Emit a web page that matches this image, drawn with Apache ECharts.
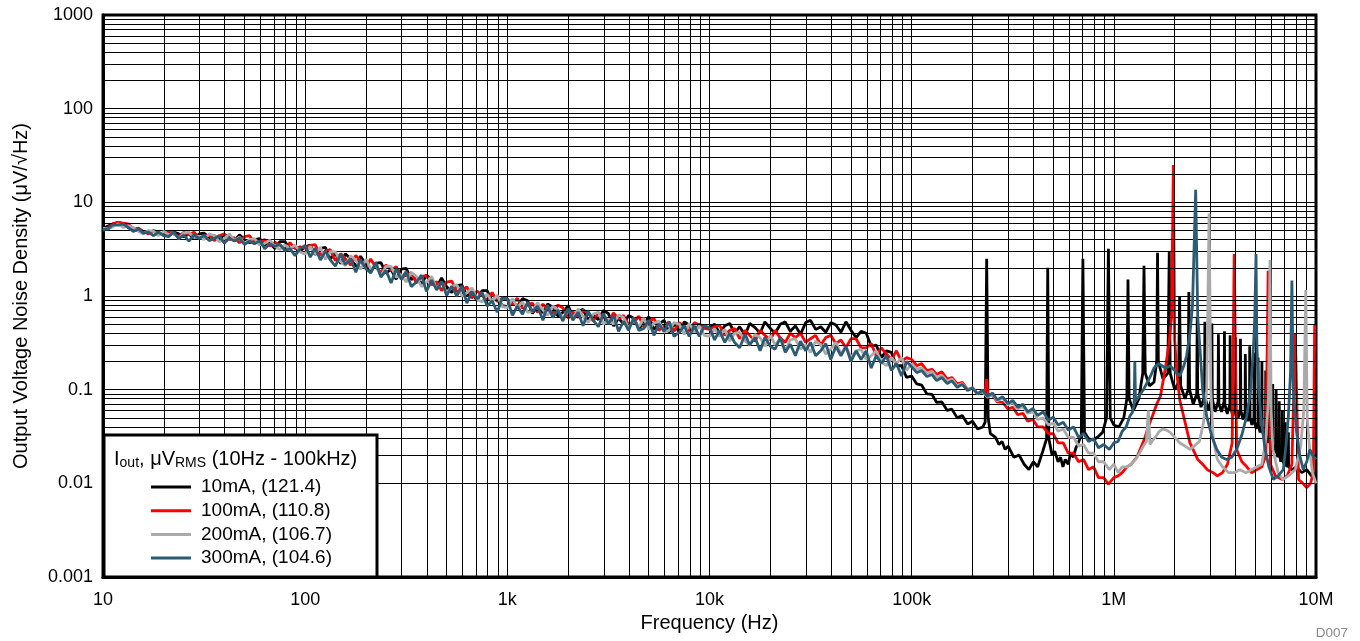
<!DOCTYPE html>
<html><head><meta charset="utf-8">
<script src="https://cdn.jsdelivr.net/npm/echarts@6.0.0/dist/echarts.min.js"></script>
<style>html,body{margin:0;padding:0;background:#fff}#c{width:1360px;height:641px}</style>
</head><body><div id="c"></div>
<script>
const xTickLabels = ['10','100','1k','10k','100k','1M','10M'];
const yTickLabels = ['0.001','0.01','0.1','1','10','100','1000'];
const seriesNames = ['10mA, (121.4)','100mA, (110.8)','200mA, (106.7)','300mA, (104.6)'];

// Low-frequency sample frequencies (Hz), 10 Hz .. 94.4 kHz
const lfFreq = [10,10.6,11.2,11.9,12.6,13.3,14.1,15,15.8,16.8,17.8,18.8,20,21.1,22.4,23.7,25.1,26.6,28.2,29.9,31.6,33.5,35.5,37.6,39.8,42.2,44.7,47.3,50.1,53.1,56.2,59.6,63.1,66.8,70.8,75,79.4,84.1,89.1,94.4,
  100,106,112,119,126,133,141,150,158,168,178,188,200,211,224,237,251,266,282,299,316,335,355,376,398,422,447,473,501,531,562,596,631,668,708,750,794,841,891,944,
  1000,1060,1120,1190,1260,1330,1410,1500,1580,1680,1780,1880,2000,2110,2240,2370,2510,2660,2820,2990,3160,3350,3550,3760,3980,4220,4470,4730,5010,5310,5620,5960,6310,6680,7080,7500,7940,8410,8910,9440,
  10000,10600,11200,11900,12600,13300,14100,15000,15800,16800,17800,18800,20000,21100,22400,23700,25100,26600,28200,29900,31600,33500,35500,37600,39800,42200,44700,47300,50100,53100,56200,59600,63100,66800,70800,75000,79400,84100,89100,94400];

const lf10mA = [5.3,5.6,5.9,6.1,5.9,5.4,5.1,5.0,4.7,4.9,4.9,4.6,4.7,4.4,4.8,4.6,4.3,4.6,4.1,4.6,4.7,4.2,4.4,4.0,4.5,4.3,3.9,4.5,4.0,3.7,4.0,4.1,3.5,3.7,3.2,3.8,3.8,3.2,3.4,3.0,
  3.35,3.5,2.77,3.23,3.3,2.48,2.86,2.22,2.82,2.5,2.07,2.66,2.15,1.82,2.24,2.27,1.75,1.93,1.51,1.94,1.97,1.5,1.58,1.33,1.67,1.51,1.24,1.56,1.26,1.09,1.3,1.31,1.01,1.11,0.89,1.14,1.14,0.88,0.96,0.79,
  0.77,0.89,0.77,0.94,0.89,0.65,0.78,0.66,0.82,0.76,0.61,0.67,0.79,0.59,0.68,0.72,0.55,0.62,0.56,0.7,0.65,0.48,0.58,0.5,0.62,0.58,0.45,0.51,0.6,0.44,0.5,0.55,0.41,0.51,0.41,0.53,0.49,0.41,0.5,0.46,
  0.46,0.5,0.4,0.48,0.51,0.4,0.47,0.38,0.51,0.46,0.4,0.53,0.45,0.4,0.5,0.53,0.42,0.48,0.39,0.52,0.55,0.44,0.47,0.41,0.52,0.49,0.41,0.53,0.43,0.36,0.42,0.4,0.29,0.3,0.22,0.26,0.25,0.18,0.18,0.135];
const lf100mA = [5.0,5.3,5.9,6.1,6.0,5.9,5.2,5.3,4.9,4.6,5.0,4.8,4.5,4.9,4.6,4.3,4.8,4.5,4.8,4.1,4.3,4.5,3.9,4.4,4.6,4.0,4.2,3.7,4.3,4.4,3.7,3.8,4.0,3.4,3.75,3.5,3.2,3.7,3.2,3.35,
  3.26,3.47,3.54,2.74,3.02,3.13,2.39,2.82,2.5,2.14,2.71,2.35,2.02,2.48,2.0,1.78,2.14,1.89,2.06,1.58,1.67,1.77,1.38,1.6,1.66,1.32,1.42,1.14,1.41,1.44,1.12,1.14,1.25,0.95,1.13,1.02,0.89,1.09,0.87,0.95,
  0.93,0.81,0.95,0.74,0.8,0.84,0.67,0.82,0.71,0.66,0.8,0.75,0.58,0.68,0.59,0.71,0.66,0.54,0.66,0.59,0.53,0.66,0.57,0.62,0.49,0.52,0.61,0.47,0.53,0.58,0.43,0.48,0.53,0.42,0.52,0.48,0.42,0.52,0.49,0.45,
  0.44,0.47,0.49,0.38,0.43,0.45,0.35,0.43,0.38,0.33,0.43,0.38,0.34,0.43,0.355,0.32,0.4,0.36,0.4,0.32,0.35,0.38,0.3,0.36,0.38,0.31,0.34,0.28,0.35,0.35,0.28,0.28,0.31,0.23,0.28,0.24,0.21,0.26,0.2,0.22];
const lf200mA = [5.3,5.2,5.5,5.9,5.4,5.6,5.4,4.9,4.6,5.0,4.9,4.4,4.9,4.5,4.7,4.1,4.7,4.8,4.2,4.35,4.0,4.6,4.4,3.8,4.1,4.6,3.9,4.25,3.65,4.0,4.1,3.5,3.65,3.95,3.4,3.15,3.5,3.2,3.5,2.95,
  2.79,3.38,2.8,3.31,2.46,2.97,2.96,2.32,2.11,2.69,2.42,1.93,2.47,1.93,2.16,1.63,2.07,2.07,1.58,1.7,1.41,1.79,1.62,1.26,1.4,1.62,1.19,1.42,1.07,1.27,1.32,1.0,1.08,1.22,0.93,0.86,1.05,0.87,1.02,0.77,
  0.75,0.94,0.76,0.86,0.67,0.68,0.85,0.71,0.62,0.78,0.71,0.57,0.72,0.57,0.73,0.6,0.52,0.64,0.67,0.5,0.57,0.5,0.63,0.59,0.45,0.56,0.47,0.58,0.44,0.51,0.54,0.41,0.43,0.52,0.5,0.39,0.51,0.41,0.48,0.38,
  0.37,0.45,0.37,0.44,0.33,0.4,0.41,0.33,0.3,0.39,0.36,0.29,0.38,0.3,0.35,0.26,0.34,0.35,0.27,0.3,0.25,0.33,0.3,0.24,0.27,0.32,0.24,0.29,0.22,0.26,0.27,0.21,0.23,0.26,0.2,0.18,0.22,0.19,0.22,0.16];
const lf300mA = [5.1,5.2,5.8,5.7,5.9,5.4,4.9,5.2,4.7,4.8,4.4,4.8,4.4,4.3,4.8,4.1,4.45,3.85,4.5,4.1,4.45,3.9,4.1,4.4,3.65,4.15,3.85,4.15,3.55,3.85,3.6,3.9,3.2,3.6,3.4,3.55,3.05,3.2,2.7,3.2,
  3.47,2.6,3.25,2.42,3.02,2.43,2.08,2.82,2.16,2.5,1.79,2.44,1.94,1.76,2.28,1.59,1.88,1.38,1.94,1.5,1.84,1.26,1.41,1.67,1.12,1.48,1.16,1.43,1.01,1.27,1.0,1.28,0.84,1.11,0.93,1.1,0.78,0.89,0.67,0.95,
  0.93,0.62,0.78,0.64,0.86,0.68,0.78,0.55,0.8,0.59,0.71,0.54,0.73,0.55,0.67,0.48,0.69,0.55,0.47,0.65,0.5,0.62,0.42,0.54,0.43,0.59,0.43,0.45,0.55,0.38,0.5,0.42,0.53,0.37,0.41,0.48,0.37,0.48,0.37,0.48,
  0.46,0.34,0.43,0.32,0.4,0.32,0.28,0.39,0.3,0.36,0.26,0.36,0.29,0.27,0.36,0.25,0.305,0.23,0.33,0.26,0.32,0.23,0.26,0.31,0.21,0.29,0.23,0.29,0.2,0.26,0.21,0.26,0.17,0.23,0.19,0.23,0.16,0.19,0.14,0.2];

// High-frequency part: [frequency Hz, density uV/rtHz]
const hf10mA = [[100e3,0.14],[106e3,0.115],[112e3,0.112],[119e3,0.09],[126e3,0.089],[133e3,0.073],[141e3,0.074],[150e3,0.06],[158e3,0.062],[168e3,0.05],[178e3,0.053],[189e3,0.043],[200e3,0.046],[212e3,0.038],[225e3,0.04],[231e3,0.045],[235e3,2.5],[239e3,0.05],[245e3,0.034],[260e3,0.031],[270e3,0.026],[280e3,0.028],[290e3,0.023],[300e3,0.025],[320e3,0.019],[340e3,0.02],[360e3,0.016],[380e3,0.014],[400e3,0.017],[420e3,0.015],[445e3,0.022],[465e3,0.03],[471e3,2.0],[477e3,0.03],[495e3,0.02],[510e3,0.022],[530e3,0.017],[545e3,0.019],[560e3,0.015],[575e3,0.018],[595e3,0.016],[610e3,0.021],[630e3,0.019],[650e3,0.024],[690e3,0.032],[703e3,2.5],[716e3,0.035],[750e3,0.03],[790e3,0.029],[830e3,0.031],[880e3,0.035],[920e3,0.05],[940e3,3.2],[960e3,0.05],[1.0e6,0.042],[1.06e6,0.04],[1.12e6,0.05],[1.16e6,0.08],[1.175e6,1.5],[1.19e6,0.08],[1.25e6,0.06],[1.33e6,0.08],[1.39e6,0.15],[1.41e6,2.1],[1.43e6,0.15],[1.5e6,0.11],[1.58e6,0.12],[1.63e6,0.2],[1.645e6,2.9],[1.66e6,0.2],[1.75e6,0.13],[1.85e6,0.15],[1.88e6,3.0],[1.9e6,0.15],[2.0e6,0.1],[2.09e6,0.12],[2.115e6,0.98],[2.14e6,0.11],[2.25e6,0.08],[2.33e6,0.1],[2.35e6,1.1],[2.37e6,0.1],[2.47e6,0.07],[2.57e6,0.09],[2.585e6,0.6],[2.6e6,0.09],[2.7e6,0.065],[2.81e6,0.085],[2.82e6,0.53],[2.84e6,0.08],[2.94e6,0.06],[3.04e6,0.08],[3.055e6,0.51],[3.07e6,0.08],[3.17e6,0.058],[3.28e6,0.075],[3.29e6,0.39],[3.31e6,0.07],[3.41e6,0.058],[3.51e6,0.075],[3.525e6,0.42],[3.54e6,0.07],[3.64e6,0.055],[3.75e6,0.07],[3.76e6,0.38],[3.78e6,0.065],[3.88e6,0.052],[3.985e6,0.065],[4.0e6,0.36],[4.015e6,0.062],[4.12e6,0.05],[4.22e6,0.062],[4.23e6,0.35],[4.25e6,0.06],[4.35e6,0.048],[4.46e6,0.058],[4.47e6,0.24],[4.49e6,0.055],[4.59e6,0.046],[4.69e6,0.056],[4.7e6,0.29],[4.72e6,0.05],[4.82e6,0.042],[4.93e6,0.05],[4.94e6,0.25],[4.96e6,0.046],[5.06e6,0.038],[5.16e6,0.045],[5.17e6,0.22],[5.19e6,0.042],[5.29e6,0.035],[5.39e6,0.04],[5.4e6,0.2],[5.42e6,0.038],[5.52e6,0.031],[5.63e6,0.036],[5.64e6,0.16],[5.66e6,0.033],[5.76e6,0.027],[5.87e6,0.032],[5.88e6,0.14],[5.9e6,0.03],[6.0e6,0.024],[6.1e6,0.028],[6.11e6,0.115],[6.13e6,0.026],[6.23e6,0.021],[6.34e6,0.025],[6.35e6,0.1],[6.37e6,0.023],[6.47e6,0.019],[6.57e6,0.022],[6.58e6,0.075],[6.6e6,0.02],[6.7e6,0.017],[6.81e6,0.019],[6.82e6,0.06],[6.84e6,0.018],[6.95e6,0.016],[7.04e6,0.017],[7.05e6,0.045],[7.07e6,0.016],[7.2e6,0.015],[7.3e6,0.035],[7.32e6,0.015],[7.6e6,0.014],[8.0e6,0.015],[8.5e6,0.013],[9.0e6,0.014],[9.5e6,0.012],[1.0e7,0.013]];

const hf100mA = [[100e3,0.21],[106e3,0.18],[112e3,0.19],[119e3,0.16],[126e3,0.165],[133e3,0.145],[141e3,0.155],[150e3,0.13],[158e3,0.135],[168e3,0.115],[178e3,0.12],[189e3,0.1],[200e3,0.105],[212e3,0.09],[225e3,0.094],[232e3,0.1],[235e3,0.13],[238e3,0.088],[250e3,0.088],[265e3,0.074],[282e3,0.073],[300e3,0.062],[316e3,0.065],[335e3,0.054],[355e3,0.056],[375e3,0.046],[398e3,0.048],[420e3,0.04],[447e3,0.04],[475e3,0.034],[501e3,0.034],[530e3,0.027],[562e3,0.027],[595e3,0.021],[631e3,0.021],[670e3,0.017],[708e3,0.018],[750e3,0.014],[794e3,0.015],[840e3,0.0115],[891e3,0.0115],[940e3,0.0098],[1.0e6,0.0115],[1.05e6,0.012],[1.1e6,0.013],[1.16e6,0.015],[1.22e6,0.016],[1.3e6,0.019],[1.36e6,0.024],[1.42e6,0.03],[1.48e6,0.04],[1.55e6,0.052],[1.63e6,0.07],[1.7e6,0.085],[1.76e6,0.13],[1.82e6,0.2],[1.88e6,0.33],[1.93e6,0.6],[1.97e6,25],[2.0e6,0.34],[2.05e6,0.15],[2.12e6,0.077],[2.25e6,0.045],[2.38e6,0.027],[2.6e6,0.018],[2.75e6,0.016],[2.9e6,0.014],[3.1e6,0.013],[3.25e6,0.012],[3.45e6,0.013],[3.65e6,0.016],[3.85e6,0.027],[3.94e6,2.8],[4.05e6,0.023],[4.3e6,0.017],[4.55e6,0.015],[4.8e6,0.013],[5.1e6,0.014],[5.4e6,0.015],[5.65e6,0.02],[5.8e6,1.86],[5.95e6,0.016],[6.3e6,0.012],[6.8e6,0.011],[7.2e6,0.012],[7.6e6,0.016],[7.9e6,0.4],[8.2e6,0.011],[8.6e6,0.01],[9.0e6,0.009],[9.4e6,0.01],[9.7e6,0.013],[9.85e6,0.5]];

const hf200mA = [[100e3,0.19],[106e3,0.165],[112e3,0.172],[119e3,0.15],[126e3,0.157],[133e3,0.135],[141e3,0.142],[150e3,0.123],[158e3,0.13],[168e3,0.11],[178e3,0.116],[189e3,0.099],[200e3,0.105],[212e3,0.09],[224e3,0.096],[237e3,0.083],[251e3,0.089],[265e3,0.076],[282e3,0.081],[300e3,0.069],[316e3,0.073],[335e3,0.062],[355e3,0.066],[375e3,0.056],[398e3,0.058],[420e3,0.048],[447e3,0.05],[475e3,0.042],[501e3,0.044],[530e3,0.036],[562e3,0.038],[595e3,0.031],[631e3,0.031],[670e3,0.025],[708e3,0.026],[750e3,0.021],[794e3,0.021],[840e3,0.017],[891e3,0.017],[950e3,0.014],[1.0e6,0.016],[1.05e6,0.013],[1.1e6,0.015],[1.16e6,0.015],[1.22e6,0.016],[1.28e6,0.018],[1.34e6,0.021],[1.4e6,0.025],[1.45e6,0.028],[1.48e6,0.06],[1.51e6,0.026],[1.56e6,0.029],[1.62e6,0.032],[1.68e6,0.036],[1.75e6,0.038],[1.82e6,0.037],[1.9e6,0.035],[2.0e6,0.031],[2.12e6,0.027],[2.25e6,0.025],[2.38e6,0.023],[2.5e6,0.025],[2.65e6,0.028],[2.78e6,0.045],[2.88e6,0.1],[2.96e6,7.6],[3.02e6,0.1],[3.1e6,0.03],[3.25e6,0.018],[3.45e6,0.015],[3.7e6,0.013],[3.95e6,0.013],[4.2e6,0.014],[4.5e6,0.013],[4.8e6,0.014],[5.1e6,0.015],[5.4e6,0.016],[5.65e6,0.03],[5.82e6,0.08],[5.92e6,2.42],[6.0e6,0.06],[6.12e6,0.023],[6.5e6,0.013],[6.85e6,0.011],[7.3e6,0.012],[7.9e6,0.014],[8.4e6,0.025],[8.7e6,0.06],[8.9e6,1.16],[9.05e6,0.05],[9.3e6,0.023],[9.6e6,0.013],[1.0e7,0.01]];

const hf300mA = [[100e3,0.175],[106e3,0.152],[112e3,0.16],[119e3,0.138],[126e3,0.145],[133e3,0.125],[141e3,0.135],[150e3,0.116],[158e3,0.124],[168e3,0.106],[178e3,0.114],[189e3,0.098],[200e3,0.104],[212e3,0.09],[224e3,0.099],[237e3,0.085],[251e3,0.092],[265e3,0.078],[282e3,0.084],[300e3,0.071],[316e3,0.077],[335e3,0.065],[355e3,0.07],[375e3,0.058],[398e3,0.063],[420e3,0.053],[447e3,0.058],[475e3,0.047],[501e3,0.051],[530e3,0.042],[562e3,0.045],[595e3,0.037],[631e3,0.04],[670e3,0.031],[708e3,0.034],[750e3,0.028],[794e3,0.03],[840e3,0.024],[891e3,0.026],[950e3,0.023],[1.0e6,0.027],[1.05e6,0.028],[1.1e6,0.036],[1.15e6,0.04],[1.2e6,0.052],[1.24e6,0.058],[1.26e6,0.07],[1.27e6,0.2],[1.28e6,0.075],[1.33e6,0.085],[1.4e6,0.1],[1.45e6,0.115],[1.52e6,0.14],[1.58e6,0.17],[1.66e6,0.19],[1.73e6,0.18],[1.8e6,0.17],[1.9e6,0.18],[2.0e6,0.16],[2.12e6,0.14],[2.22e6,0.18],[2.29e6,0.23],[2.38e6,0.4],[2.45e6,0.8],[2.54e6,13.6],[2.6e6,0.6],[2.67e6,0.27],[2.75e6,0.1],[2.88e6,0.052],[3.05e6,0.032],[3.23e6,0.023],[3.42e6,0.019],[3.61e6,0.018],[3.83e6,0.019],[4.05e6,0.023],[4.3e6,0.033],[4.54e6,0.052],[4.75e6,0.1],[4.9e6,0.27],[4.98e6,0.6],[5.05e6,2.8],[5.1e6,0.3],[5.18e6,0.115],[5.35e6,0.05],[5.6e6,0.023],[5.85e6,0.015],[6.15e6,0.011],[6.5e6,0.012],[6.89e6,0.014],[7.1e6,0.025],[7.3e6,0.052],[7.48e6,0.15],[7.6e6,1.46],[7.72e6,0.1],[8.02e6,0.035],[8.3e6,0.02],[8.65e6,0.014],[9.0e6,0.017],[9.33e6,0.023],[9.6e6,0.02],[1.0e7,0.018]];

const seriesColors = ['#000000','#ff0000','#aaaaaa','#2c5b74'];

function joinData(lf, hf) { return lfFreq.map((f, i) => [f, lf[i]]).concat(hf); }
const allData = [joinData(lf10mA, hf10mA), joinData(lf100mA, hf100mA), joinData(lf200mA, hf200mA), joinData(lf300mA, hf300mA)];

// minor grid positions (2..9 per decade)
const minorX = [], minorY = [];
for (let e = 1; e < 7; e++) for (let m = 2; m <= 9; m++) minorX.push({ xAxis: m * Math.pow(10, e) });
for (let e = -3; e < 3; e++) for (let m = 2; m <= 9; m++) minorY.push({ yAxis: +(m * Math.pow(10, e)).toPrecision(3) });

const FONT = 'Liberation Sans, Arial, sans-serif';
const chart = echarts.init(document.getElementById('c'), null, { renderer: 'canvas' });
const series = [{
  type: 'line', data: [], silent: true, z: 1, animation: false,
  markLine: { silent: true, symbol: 'none', animation: false, label: { show: false },
    lineStyle: { color: '#000', width: 1, type: 'solid' }, emphasis: { disabled: true },
    data: minorX.concat(minorY) }
}];
seriesNames.forEach((n, i) => series.push({
  name: n, type: 'line', data: allData[i], showSymbol: false, symbol: 'none', z: 3 + i,
  lineStyle: { color: seriesColors[i], width: 2.8 }, itemStyle: { color: seriesColors[i] },
  animation: false, sampling: null, emphasis: { disabled: true }
}));

chart.setOption({
  animation: false,
  backgroundColor: '#fff',
  grid: { left: 103, right: 44, top: 15, bottom: 64, show: true, borderColor: '#000', borderWidth: 3, backgroundColor: 'transparent' },
  xAxis: {
    type: 'log', logBase: 10, min: 10, max: 1e7, splitNumber: 6,
    name: 'Frequency (Hz)', nameLocation: 'middle', nameGap: 34,
    nameTextStyle: { fontFamily: FONT, fontSize: 20, color: '#000' },
    axisLine: { show: true, lineStyle: { color: '#000', width: 3 } },
    axisTick: { show: false },
    axisLabel: { fontFamily: FONT, fontSize: 18, color: '#000', margin: 14,
      formatter: v => xTickLabels[Math.round(Math.log10(v)) - 1] },
    splitLine: { show: true, lineStyle: { color: '#000', width: 1 } }
  },
  yAxis: {
    type: 'log', logBase: 10, min: 0.001, max: 1000, splitNumber: 6,
    name: 'Output Voltage Noise Density (μV/√Hz)', nameLocation: 'middle', nameGap: 72,
    nameTextStyle: { fontFamily: FONT, fontSize: 20, color: '#000' },
    axisLine: { show: true, lineStyle: { color: '#000', width: 3 } },
    axisTick: { show: false },
    axisLabel: { fontFamily: FONT, fontSize: 18, color: '#000', margin: 10,
      formatter: v => yTickLabels[Math.round(Math.log10(v)) + 3] },
    splitLine: { show: true, lineStyle: { color: '#000', width: 1 } }
  },
  legend: {
    data: seriesNames, orient: 'vertical', left: 146, top: 472, z: 30,
    icon: 'rect', itemWidth: 40, itemHeight: 3, itemGap: 3.7,
    textStyle: { fontFamily: FONT, fontSize: 19, color: '#000', lineHeight: 20, padding: [0, 0, 0, 5] },
    selectedMode: false
  },
  graphic: [
    { type: 'rect', z: 20, shape: { x: 104, y: 435, width: 273, height: 142 },
      style: { fill: '#fff', stroke: '#000', lineWidth: 3 } },
    { type: 'text', z: 21, left: 114, top: 449,
      style: { text: '{a|I}{b|out}{a|, μV}{b|RMS}{a| (10Hz - 100kHz)}',
        rich: { a: { fontFamily: FONT, fontSize: 20, lineHeight: 22, fill: '#000', verticalAlign: 'middle' },
                b: { fontFamily: FONT, fontSize: 14, lineHeight: 8, fill: '#000', verticalAlign: 'bottom' } } } },
    { type: 'text', right: 12, top: 626, z: 21,
      style: { text: 'D007', font: '13.5px ' + FONT, fill: '#888' } }
  ],
  series: series
});
</script></body></html>
